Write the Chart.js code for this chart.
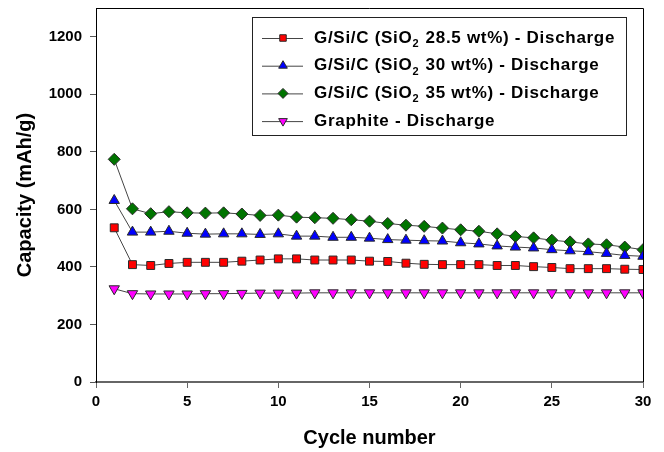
<!DOCTYPE html>
<html>
<head>
<meta charset="utf-8">
<script src="https://cdn.jsdelivr.net/npm/chart.js@4.4.0/dist/chart.umd.min.js"></script>
<style>
  html, body { margin: 0; padding: 0; background: #fff; }
</style>
</head>
<body>
<canvas id="chart" width="664" height="452"></canvas>
<script>
// cycle numbers on x
const cycles = [1, 2, 3, 4, 5, 6, 7, 8, 9, 10, 11, 12, 13, 14, 15,
  16, 17, 18, 19, 20, 21, 22, 23, 24, 25, 26, 27, 28, 29, 30];

// discharge capacity, mAh/g
const sio2_285 = [536, 408, 405, 412, 416, 416, 416, 420, 424, 428, 428, 424, 424, 424, 420,
  419, 413, 409, 408, 408, 408, 405, 405, 401, 398, 394, 394, 394, 392, 391];
const sio2_30 = [631, 521, 521, 524, 517, 514, 515, 515, 513, 515, 507, 507, 503, 503, 500,
  495, 493, 491, 490, 484, 480, 473, 469, 466, 460, 456, 453, 447, 440, 437];
const sio2_35 = [774, 602, 585, 592, 588, 587, 588, 584, 579, 580, 573, 571, 569, 564, 559,
  551, 545, 541, 535, 529, 524, 515, 506, 501, 493, 487, 480, 477, 469, 460];
const graphite = [324, 307, 306, 306, 306, 307, 307, 308, 309, 309, 309, 310, 310, 310, 310,
  310, 310, 310, 310, 310, 310, 310, 310, 310, 310, 310, 310, 310, 310, 310];

const seriesLabels = [
  "G/Si/C (SiO\u2082 28.5 wt%) - Discharge",
  "G/Si/C (SiO\u2082 30 wt%) - Discharge",
  "G/Si/C (SiO\u2082 35 wt%) - Discharge",
  "Graphite - Discharge"
];

const yTicks = [0, 200, 400, 600, 800, 1000, 1200];

const FONT = "'Liberation Sans', Arial, sans-serif";

function pts(values) {
  return cycles.map((c, i) => ({ x: c, y: values[i] }));
}

function series(label, values, color, style, radius, rotation) {
  return {
    label: label,
    data: pts(values),
    borderColor: "#454545",
    borderWidth: 1,
    pointStyle: style,
    pointRotation: rotation || 0,
    pointRadius: radius,
    pointBackgroundColor: color,
    pointBorderColor: "#2a2a2a",
    pointBorderWidth: 1,
    tension: 0
  };
}

// draws top and right border of the plot box
const framePlugin = {
  id: "frame",
  afterDatasetsDraw(chart) {
    const { ctx, chartArea: a } = chart;
    ctx.save();
    ctx.strokeStyle = "#000";
    ctx.lineWidth = 1;
    ctx.beginPath();
    ctx.moveTo(a.left, a.top + 0.5);
    ctx.lineTo(a.right + 0.5, a.top + 0.5);
    ctx.lineTo(a.right + 0.5, a.bottom);
    ctx.stroke();
    ctx.restore();
  }
};

// legend box with subscript in SiO2
const legendPlugin = {
  id: "boxLegend",
  afterDraw(chart) {
    const ctx = chart.ctx;
    const box = { x: 252.5, y: 17.5, w: 374, h: 118 };
    ctx.save();
    ctx.fillStyle = "#fff";
    ctx.fillRect(box.x, box.y, box.w, box.h);
    ctx.strokeStyle = "#222";
    ctx.lineWidth = 1;
    ctx.strokeRect(box.x, box.y, box.w, box.h);

    chart.data.datasets.forEach((ds, i) => {
      const y = 38 + i * 27.7;
      ctx.strokeStyle = ds.borderColor;
      ctx.beginPath();
      ctx.moveTo(262, y + 0.5);
      ctx.lineTo(303, y + 0.5);
      ctx.stroke();

      ctx.fillStyle = ds.pointBackgroundColor;
      ctx.strokeStyle = ds.pointBorderColor;
      ctx.lineWidth = 1;
      Chart.helpers.drawPoint(ctx, {
        pointStyle: ds.pointStyle,
        rotation: ds.pointRotation,
        radius: ds.pointRadius - 1,
        borderWidth: 1
      }, 283, y);

      // text, splitting on the subscript two
      const parts = ds.label.split("\u2082");
      let x = 314;
      ctx.fillStyle = "#000";
      ctx.textBaseline = "middle";
      ctx.textAlign = "left";
      ctx.letterSpacing = "0.7px";
      parts.forEach((p, k) => {
        ctx.font = "bold 17px " + FONT;
        ctx.fillText(p, x, y);
        x += ctx.measureText(p).width;
        if (k < parts.length - 1) {
          ctx.font = "bold 11px " + FONT;
          ctx.fillText("2", x, y + 6);
          x += ctx.measureText("2").width + 1;
        }
      });
    });
    ctx.restore();
  }
};

new Chart(document.getElementById("chart"), {
  type: "line",
  data: {
    datasets: [
      series(seriesLabels[0], sio2_285, "#ff0000", "rect", 5.6),
      series(seriesLabels[1], sio2_30, "#0000ff", "triangle", 6),
      series(seriesLabels[2], sio2_35, "#007400", "rectRot", 6),
      series(seriesLabels[3], graphite, "#ff00ff", "triangle", 6, 180)
    ]
  },
  options: {
    responsive: false,
    animation: false,
    layout: { padding: { top: 8, right: 21, bottom: 0, left: 0 } },
    plugins: {
      legend: { display: false },
      tooltip: { enabled: false }
    },
    scales: {
      x: {
        type: "linear",
        min: 0,
        max: 30,
        ticks: {
          stepSize: 5,
          color: "#000",
          padding: 5,
          font: { family: FONT, size: 15, weight: "bold" }
        },
        grid: { drawOnChartArea: false, drawTicks: true, tickLength: 6, color: "#666", lineWidth: 1 },
        border: { display: true, color: "#666", width: 2 },
        title: {
          display: true,
          text: "Cycle number",
          color: "#000",
          padding: { top: 0, bottom: 2 },
          font: { family: FONT, size: 20, weight: "bold" }
        },
        afterFit(scale) {
          scale.height = 70;
          scale.paddingLeft = 0;
          scale.paddingRight = 0;
        }
      },
      y: {
        min: 0,
        max: 1300,
        afterBuildTicks(scale) {
          scale.ticks = yTicks.map(v => ({ value: v }));
        },
        ticks: {
          color: "#000",
          padding: 8,
          callback: v => String(v),
          font: { family: FONT, size: 15, weight: "bold" }
        },
        grid: { drawOnChartArea: false, drawTicks: true, tickLength: 6, color: "#555", lineWidth: 1 },
        border: { display: true, color: "#000", width: 1 },
        title: {
          display: true,
          text: "Capacity (mAh/g)",
          color: "#000",
          padding: { top: 13, bottom: 0 },
          font: { family: FONT, size: 20, weight: "bold" }
        },
        afterFit(scale) {
          scale.width = 96;
          scale.paddingTop = 0;
          scale.paddingBottom = 0;
        }
      }
    }
  },
  plugins: [framePlugin, legendPlugin]
});
</script>
</body>
</html>
